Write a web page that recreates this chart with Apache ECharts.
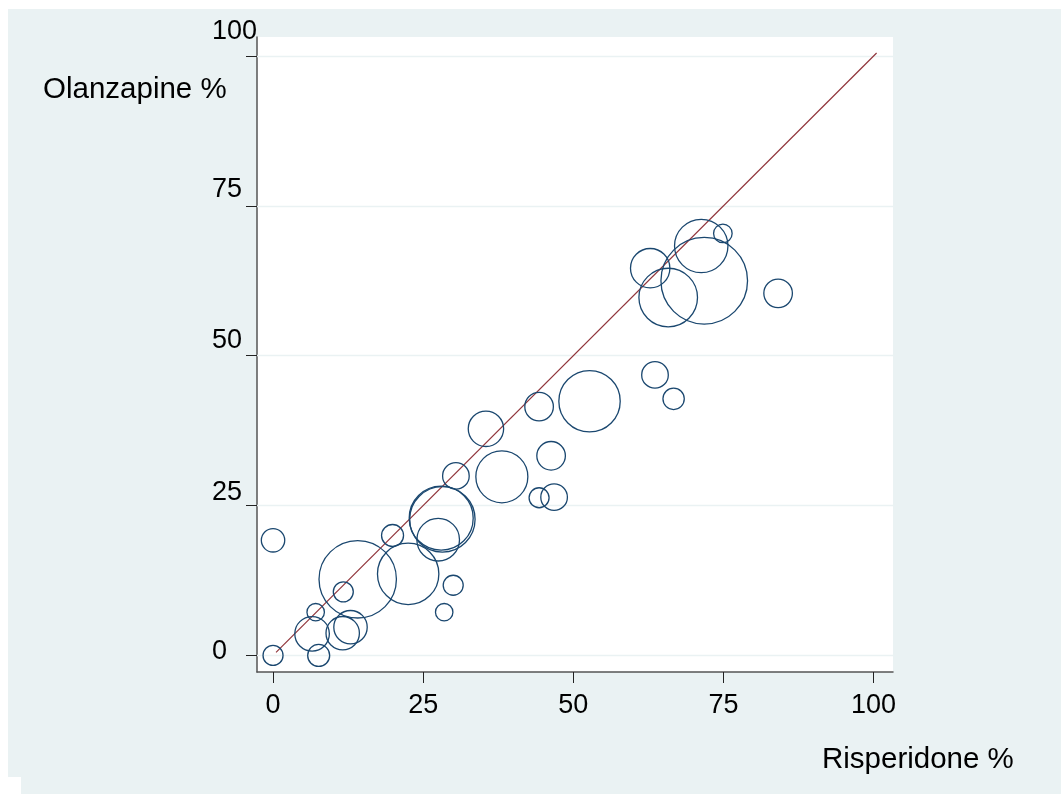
<!DOCTYPE html>
<html><head><meta charset="utf-8">
<script src="https://cdn.jsdelivr.net/npm/echarts@6/dist/echarts.min.js"></script>
<style>html,body{margin:0;padding:0;background:#fff}#c{width:1061px;height:794px}</style>
</head><body><div id="c"></div>
<script>
// Risperidone % (x), Olanzapine % (y), study weight (bubble area)
const risperidone = [0, 0, 7.6, 7.1, 6.5, 11.6, 12.9, 11.7, 14.1, 19.9, 22.5, 28.2, 28.0, 27.5, 30.0, 28.5, 30.45, 35.45, 38.1, 44.3, 44.3, 46.8, 46.3, 52.7, 63.6, 66.7, 62.8, 65.8, 71.8, 71.3, 74.9, 84.1];
const olanzapine  = [0, 19.2, 0, 7.2, 3.6, 3.7, 4.7, 10.6, 12.7, 20.0, 13.6, 22.7, 22.9, 19.3, 11.7, 7.2, 29.95, 37.8, 29.8, 41.5, 26.3, 26.4, 33.3, 42.4, 46.8, 42.8, 64.6, 59.7, 62.5, 68.3, 70.4, 60.4];
const weights     = [100, 137, 121, 76, 299, 279, 279, 100, 1498, 121, 942, 1069, 1024, 454, 100, 76, 177, 313, 676, 204, 100, 177, 204, 942, 177, 114, 388, 858, 1875, 713, 86, 204];
const tickValues = [0, 25, 50, 75, 100];
const equalityLine = [0.5, 100.5];
const xTitle = 'Risperidone %';
const yTitle = 'Olanzapine %';

const FONT = '"Liberation Sans", Arial, sans-serif';
const BG = '#eaf2f3';
const NAVY = '#1a476f';
const MAROON = '#90353b';

const points = risperidone.map((x, i) => [x, olanzapine[i], weights[i]]);
const lineData = equalityLine.map(v => [v, v]);

const yPad = {0: 8, 25: 27, 50: 30, 75: 32, 100: 48};
const rich = {};
tickValues.forEach(v => {
  rich['t' + v] = {fontSize: 27, fontFamily: FONT, color: '#000', padding: [0, 0, yPad[v], 0]};
});

const chart = echarts.init(document.getElementById('c'), null, {renderer: 'canvas'});
chart.setOption({
  backgroundColor: '#fff',
  animation: false,
  graphic: [
    {type: 'rect', z: -100, silent: true, shape: {x: 8, y: 9, width: 1053, height: 768}, style: {fill: BG}},
    {type: 'rect', z: -100, silent: true, shape: {x: 21, y: 9, width: 1040, height: 785}, style: {fill: BG}},
    {type: 'text', left: 43, top: 88 - 13, style: {text: yTitle, fontSize: 29.5, fontFamily: FONT, fill: '#000'}},
    {type: 'text', left: 822, top: 759 - 14, style: {text: xTitle, fontSize: 29.5, fontFamily: FONT, fill: '#000'}}
  ],
  grid: {left: 257, right: 168, top: 37, bottom: 122, show: true, backgroundColor: '#fff', borderWidth: 0, containLabel: false},
  xAxis: {
    type: 'value', min: -2.67, max: 103.23,
    axisLine: {show: true, onZero: false, lineStyle: {color: '#555', width: 1.5}},
    axisTick: {show: true, length: 11, customValues: tickValues, lineStyle: {color: '#222', width: 1}},
    axisLabel: {customValues: tickValues, fontSize: 27, fontFamily: FONT, color: '#000', margin: 20},
    splitLine: {show: false}
  },
  yAxis: {
    type: 'value', min: -2.77, max: 103.17,
    axisLine: {show: true, onZero: false, lineStyle: {color: '#555', width: 1.5}},
    axisTick: {show: true, length: 11, customValues: tickValues, lineStyle: {color: '#222', width: 1}},
    axisLabel: {customValues: tickValues, align: 'left', margin: 45, verticalAlign: 'middle',
      formatter: v => '{t' + v + '|' + v + '}', rich: rich, fontSize: 27, fontFamily: FONT, color: '#000'},
    splitLine: {show: false}
  },
  series: [
    {
      type: 'line', z: 1, data: [], silent: true,
      markLine: {
        silent: true, symbol: ['none', 'none'], z: 1,
        label: {show: false},
        lineStyle: {color: BG, width: 1.3, type: 'solid'},
        data: tickValues.map(v => ({yAxis: v}))
      }
    },
    {
      type: 'line', z: 2, data: lineData, symbol: 'none', silent: true,
      lineStyle: {color: MAROON, width: 1.2}
    },
    {
      type: 'scatter', z: 3, data: points, silent: true,
      symbol: 'circle',
      symbolSize: d => 2 * Math.sqrt(d[2]),
      itemStyle: {color: 'rgba(0,0,0,0)', borderColor: NAVY, borderWidth: 1.3, opacity: 1}
    }
  ]
});
</script>
</body></html>
